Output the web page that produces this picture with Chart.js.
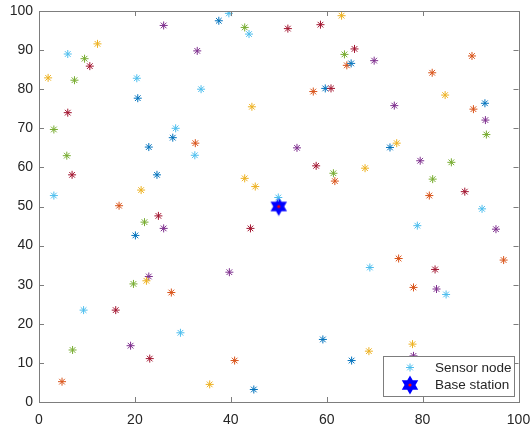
<!DOCTYPE html>
<html>
<head>
<meta charset="utf-8">
<script src="https://cdn.jsdelivr.net/npm/chart.js@4"></script>
<style>
  html, body { margin: 0; padding: 0; background: #fff; }
</style>
</head>
<body>
<canvas id="grafico" width="531" height="430"></canvas>
<script>
// cores padrao do MATLAB
const coresMatlab = ['#0072BD', '#D95319', '#EDB120', '#7E2F8E', '#77AC30', '#4DBEEE', '#A2142F'];
// B=0 O=1 Y=2 P=3 G=4 LB=5 R=6

const sensorX = [1.9, 6.0, 9.5, 10.6, 12.2, 7.4, 26, 33, 20.4, 20.6, 33.8, 6, 3.1, 28.5, 27.9, 32.6, 32.5, 22.9, 5.8, 6.9,
  24.6, 21.3, 3.1, 16.7, 37.5, 39.6, 42.9, 43.8, 51.9, 58.7, 63.1, 44.4, 65.8, 63.7, 64.2, 65.1, 57.2, 59.7, 60.9, 53.8,
  57.8, 61.4, 61.7, 42.9, 45.1, 49.9, 69.9, 90.3, 82, 84.7, 93, 90.6, 93.1, 93.3, 74.1, 73.2, 74.6, 79.5, 86, 68,
  82.1, 81.4, 88.8, 92.4, 24.9, 22, 26, 20.1, 22.9, 22.4, 19.7, 27.6, 9.3, 16, 29.5, 19.1, 7, 23.1, 4.8, 44.1,
  39.7, 59.2, 65.2, 40.8, 35.6, 44.8, 95.3, 78.9, 75, 96.9, 69, 82.6, 78.1, 82.9, 84.9, 68.8, 77.9, 78.1];
const sensorY = [82.9, 89, 87.8, 85.9, 91.6, 82.3, 96.3, 89.8, 82.8, 77.7, 80, 74, 69.7, 70, 67.6, 66.2, 63.1, 65.2, 63, 58.1,
  58.1, 54.2, 52.8, 50.2, 97.5, 99.4, 95.8, 94.1, 95.5, 96.5, 98.8, 75.5, 90.3, 88.9, 86.1, 86.6, 79.4, 80.2, 80.2, 65,
  60.4, 58.5, 56.5, 57.2, 55.1, 52.3, 87.3, 88.5, 84.2, 78.5, 76.4, 74.9, 72.1, 68.4, 75.8, 65.1, 66.2, 61.7, 61.3, 59.8,
  57, 52.8, 53.8, 49.4, 47.6, 46, 44.4, 42.6, 32.1, 31, 30.2, 28, 23.5, 23.5, 17.7, 14.4, 13.3, 11.1, 5.2, 44.4,
  33.2, 16, 10.6, 10.6, 4.5, 3.2, 44.2, 45.1, 36.7, 36.3, 34.4, 33.9, 29.3, 28.9, 27.5, 13, 14.8, 11.8];
const sensorCor = [2, 5, 4, 6, 2, 4, 3, 3, 5, 0, 5, 6, 4, 5, 0, 1, 5, 0, 4, 6,
  0, 2, 5, 1, 0, 5, 4, 5, 6, 6, 2, 2, 6, 4, 1, 0, 1, 0, 6, 3,
  6, 4, 1, 2, 2, 5, 3, 1, 1, 2, 0, 1, 3, 4, 3, 0, 2, 3, 4, 2,
  4, 1, 6, 5, 6, 4, 3, 0, 3, 2, 4, 1, 5, 6, 5, 3, 4, 6, 1, 6,
  3, 0, 0, 1, 2, 0, 3, 5, 1, 1, 5, 6, 1, 3, 5, 2, 2, 3];
const baseX = [50];
const baseY = [50];

const xTicks = [0, 20, 40, 60, 80, 100];
const yTicks = [0, 10, 20, 30, 40, 50, 60, 70, 80, 90, 100];
const legendas = ['Sensor node', 'Base station'];

const corEixo = '#7d7d7d';
const corTexto = '#262626';
const fonte = '"Liberation Sans", Arial, Helvetica, sans-serif';

// hexagrama da estacao base
function criarHexagrama() {
    const c = document.createElement('canvas');
    c.width = 20; c.height = 20;
    const g = c.getContext('2d');
    function estrela(r, cx, cy) {
        g.beginPath();
        for (let t = 0; t < 2; t++) {
            for (let i = 0; i < 3; i++) {
                const a = -Math.PI / 2 + t * Math.PI + i * 2 * Math.PI / 3;
                const px = cx + r * Math.cos(a), py = cy + r * Math.sin(a);
                if (i === 0) g.moveTo(px, py); else g.lineTo(px, py);
            }
            g.closePath();
        }
    }
    estrela(7.5, 10, 10);
    g.fillStyle = '#0000FF';
    g.strokeStyle = '#0000FF';
    g.lineWidth = 2;
    g.lineJoin = 'miter';
    g.fill();
    g.stroke();
    g.fillStyle = '#FF0000';
    g.beginPath();
    g.arc(10, 10, 1.6, 0, Math.PI * 2);
    g.fill();
    return c;
}
const hexagrama = criarHexagrama();

const pontosSensor = sensorX.map((x, i) => ({ x, y: sensorY[i] }));
const coresSensor = sensorCor.map(i => coresMatlab[i]);
const pontosBase = baseX.map((x, i) => ({ x, y: baseY[i] }));

const caixaEixos = {
    id: 'caixaEixos',
    afterDatasetsDraw(chart) {
        const { ctx, chartArea: { left, right, top, bottom }, scales: { x, y } } = chart;
        ctx.save();
        ctx.strokeStyle = corEixo;
        ctx.lineWidth = 1;
        ctx.strokeRect(Math.round(left) + 0.5, Math.round(top) + 0.5, Math.round(right - left), Math.round(bottom - top));
        ctx.beginPath();
        xTicks.forEach(v => {
            const px = Math.round(x.getPixelForValue(v)) + 0.5;
            ctx.moveTo(px, bottom); ctx.lineTo(px, bottom - 5);
            ctx.moveTo(px, top); ctx.lineTo(px, top + 5);
        });
        yTicks.forEach(v => {
            const py = Math.round(y.getPixelForValue(v)) + 0.5;
            ctx.moveTo(left, py); ctx.lineTo(left + 5, py);
            ctx.moveTo(right, py); ctx.lineTo(right - 5, py);
        });
        ctx.stroke();
        ctx.restore();
    },
    afterDraw(chart) {
        const ctx = chart.ctx;
        const bx = 383.5, by = 356.5, bw = 131, bh = 40;
        ctx.save();
        ctx.fillStyle = '#fff';
        ctx.fillRect(bx, by, bw, bh);
        ctx.strokeStyle = corEixo;
        ctx.lineWidth = 1;
        ctx.strokeRect(bx, by, bw, bh);
        // marcador sensor (asterisco)
        ctx.strokeStyle = coresMatlab[5];
        ctx.lineWidth = 1;
        const r = 4, mx = 410, my = 367.5;
        ctx.beginPath();
        ctx.moveTo(mx - r, my); ctx.lineTo(mx + r, my);
        ctx.moveTo(mx, my - r); ctx.lineTo(mx, my + r);
        const d = r * Math.SQRT1_2;
        ctx.moveTo(mx - d, my - d); ctx.lineTo(mx + d, my + d);
        ctx.moveTo(mx - d, my + d); ctx.lineTo(mx + d, my - d);
        ctx.stroke();
        ctx.drawImage(hexagrama, 400, 375);
        ctx.fillStyle = corTexto;
        ctx.font = '13.5px ' + fonte;
        ctx.textBaseline = 'middle';
        ctx.textAlign = 'left';
        ctx.fillText(legendas[0], 435, 368);
        ctx.fillText(legendas[1], 435, 385.5);
        ctx.restore();
    }
};

new Chart(document.getElementById('grafico'), {
    type: 'scatter',
    data: {
        datasets: [
            {
                label: legendas[0],
                data: pontosSensor,
                pointStyle: 'star',
                pointRadius: 4,
                pointHoverRadius: 4,
                borderWidth: 1,
                pointBorderColor: coresSensor,
                pointBackgroundColor: coresSensor
            },
            {
                label: legendas[1],
                data: pontosBase,
                pointStyle: hexagrama,
                pointRadius: 10
            }
        ]
    },
    options: {
        responsive: false,
        animation: false,
        events: [],
        layout: { padding: { top: 11, right: 12.5, left: 0, bottom: 0 } },
        plugins: { legend: { display: false }, tooltip: { enabled: false } },
        scales: {
            x: {
                type: 'linear', min: 0, max: 100,
                grid: { display: false, drawTicks: false },
                border: { display: false },
                afterBuildTicks: s => { s.ticks = xTicks.map(v => ({ value: v })); },
                afterFit: s => { s.height = 28; s.paddingLeft = 0; s.paddingRight = 0; },
                ticks: { color: corTexto, padding: 10, maxRotation: 0, font: { size: 14, family: fonte } }
            },
            y: {
                type: 'linear', min: 0, max: 100,
                grid: { display: false, drawTicks: false },
                border: { display: false },
                afterBuildTicks: s => { s.ticks = yTicks.map(v => ({ value: v })); },
                afterFit: s => { s.width = 39; s.paddingTop = 0; s.paddingBottom = 0; },
                ticks: { color: corTexto, padding: 6, font: { size: 14, family: fonte } }
            }
        }
    },
    plugins: [caixaEixos]
});
</script>
</body>
</html>
